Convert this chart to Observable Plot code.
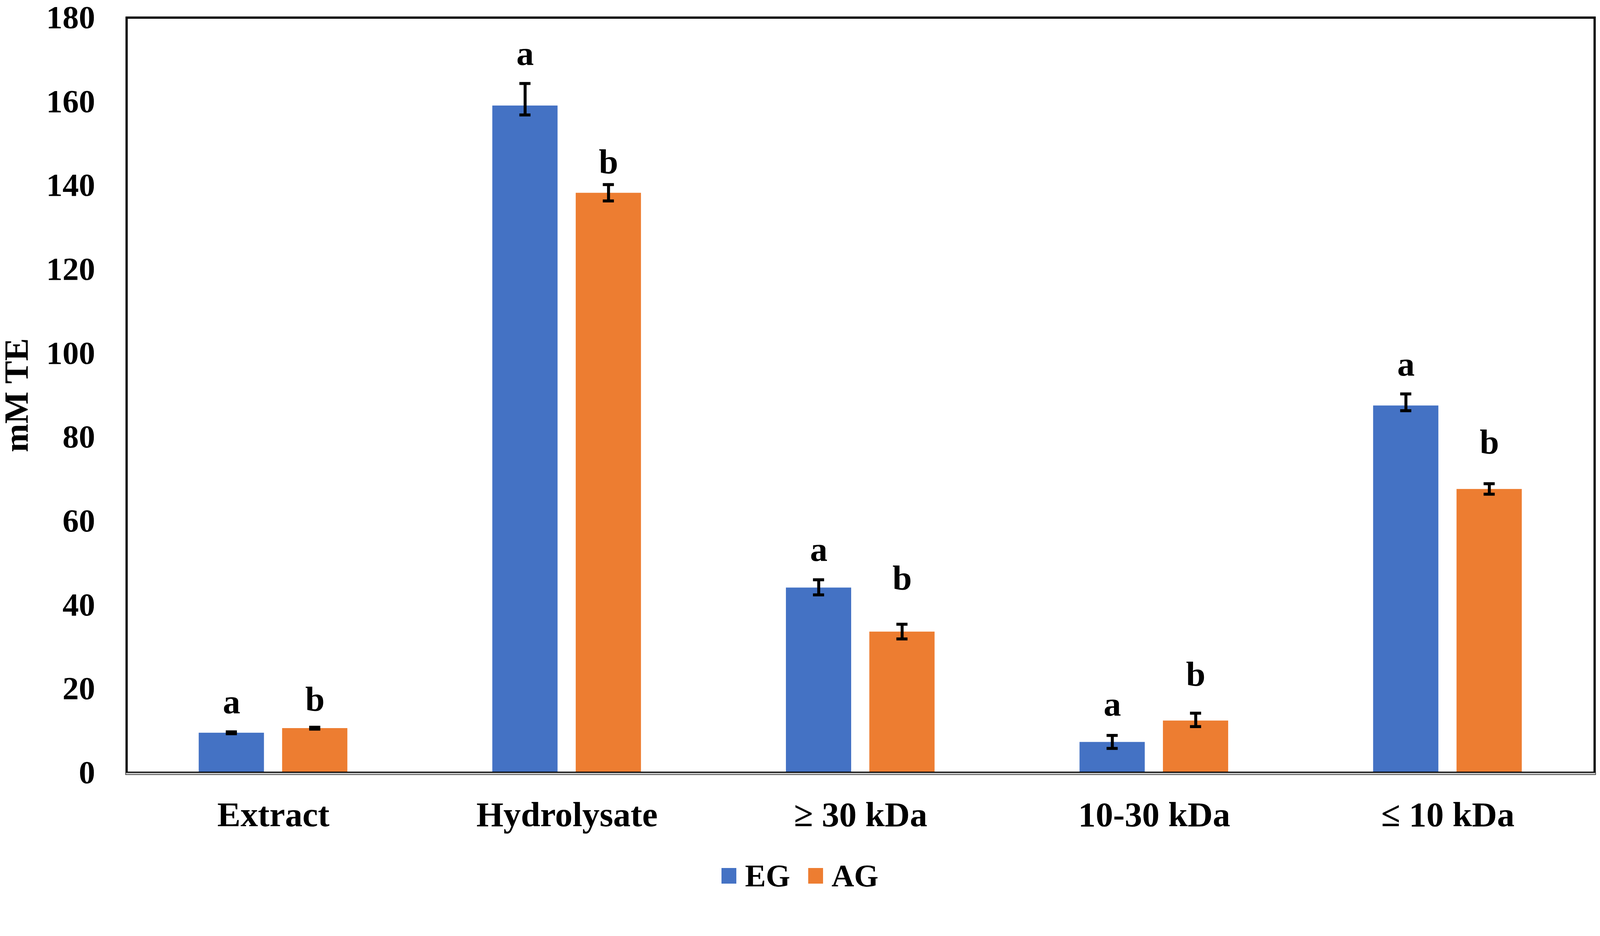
<!DOCTYPE html>
<html>
<head>
<meta charset="utf-8">
<script src="https://cdn.jsdelivr.net/npm/d3@7"></script>
<script src="https://cdn.jsdelivr.net/npm/@observablehq/plot@0.6"></script>
<style>
  html, body { margin: 0; padding: 0; background: #fff; }
  #legend {
    box-sizing: border-box; height: 95px; padding-top: 22px;
    display: flex; justify-content: center; align-items: center;
    font-family: "Liberation Serif", "Times New Roman", serif; font-weight: bold; font-size: 80px; line-height: 1;
  }
  .item { display: flex; align-items: center; margin: 0 23px; }
  .sw { display: inline-block; width: 38px; height: 40px; margin-right: 22px; }
</style>
</head>
<body>
<div id="chart"></div>
<div id="legend"></div>
<script>
const categories = ["Extract", "Hydrolysate", "≥ 30 kDa", "10-30 kDa", "≤ 10 kDa"];
const series = ["EG", "AG"];
const seriesColors = ["#4472C4", "#ED7D31"];
const yTicks = [0, 20, 40, 60, 80, 100, 120, 140, 160, 180];

const egValues = [9.5, 159.0, 44.1, 7.3, 87.5];
const egUpper  = [9.75, 164.3, 46.0, 8.9, 90.3];
const egLower  = [9.3, 156.8, 42.4, 5.8, 86.3];
const egLetters = ["a", "a", "a", "a", "a"];
const egLetterY = [14.2, 168.7, 50.5, 13.6, 94.7];

const agValues = [10.6, 138.2, 33.6, 12.4, 67.6];
const agUpper  = [10.85, 140.2, 35.4, 14.2, 68.9];
const agLower  = [10.4, 136.3, 31.9, 11.0, 66.4];
const agLetters = ["b", "b", "b", "b", "b"];
const agLetterY = [14.7, 142.8, 43.6, 20.7, 76.0];

const rows = [];
categories.forEach((c, i) => {
  rows.push({category: c, series: "EG", value: egValues[i], hi: egUpper[i], lo: egLower[i], letter: egLetters[i], letterY: egLetterY[i]});
  rows.push({category: c, series: "AG", value: agValues[i], hi: agUpper[i], lo: agLower[i], letter: agLetters[i], letterY: agLetterY[i]});
});

const chart = Plot.plot({
  width: 4316,
  height: 2300,
  marginTop: 47,
  marginBottom: 217,
  marginLeft: 340,
  marginRight: 14,
  style: {fontFamily: "'Liberation Serif', 'Times New Roman', serif", fontWeight: "bold", background: "#fff", color: "#000", overflow: "visible"},
  fx: {domain: categories, padding: 0, label: null},
  x: {domain: series, paddingInner: 0.2168, paddingOuter: 0.861, axis: null},
  y: {domain: [0, 180]},
  color: {domain: series, range: seriesColors},
  marks: [
    Plot.barY(rows, {fx: "category", x: "series", y: "value", fill: "series"}),
    Plot.ruleX(rows, {fx: "category", x: "series", y1: "lo", y2: "hi", stroke: "#000", strokeWidth: 8}),
    Plot.tickY(rows, {fx: "category", x: "series", y: "hi", stroke: "#000", strokeWidth: 8, insetLeft: 73, insetRight: 73}),
    Plot.tickY(rows, {fx: "category", x: "series", y: "lo", stroke: "#000", strokeWidth: 8, insetLeft: 73, insetRight: 73}),
    Plot.text(rows, {fx: "category", x: "series", y: "letterY", text: "letter", fontSize: 94, fontWeight: "bold", fill: "#000", lineAnchor: "bottom"}),
    Plot.frame({facet: "super", stroke: "#000", strokeWidth: 6}),
    Plot.frame({facet: "super", anchor: "bottom", stroke: "#3a3a3a", strokeWidth: 7, dy: 2.5}),
    Plot.frame({facet: "super", anchor: "bottom", stroke: "#d4d4d4", strokeWidth: 3.5, dy: 2.5}),
    Plot.axisY({ticks: yTicks, tickSize: 0, tickPadding: 85, fontSize: 88, label: null}),
    Plot.axisY({ticks: [], tickSize: 0, fontSize: 92, label: "mM TE", labelArrow: "none", labelAnchor: "center", labelOffset: 332}),
    Plot.axisFx({anchor: "bottom", tickSize: 0, tickPadding: 77, fontSize: 94, label: null})
  ]
});
document.getElementById("chart").appendChild(chart);

const legend = document.getElementById("legend");
series.forEach((s, i) => {
  const item = document.createElement("div");
  item.className = "item";
  const sw = document.createElement("span");
  sw.className = "sw";
  sw.style.background = seriesColors[i];
  const t = document.createElement("span");
  t.textContent = s;
  item.appendChild(sw);
  item.appendChild(t);
  legend.appendChild(item);
});
</script>
</body>
</html>
